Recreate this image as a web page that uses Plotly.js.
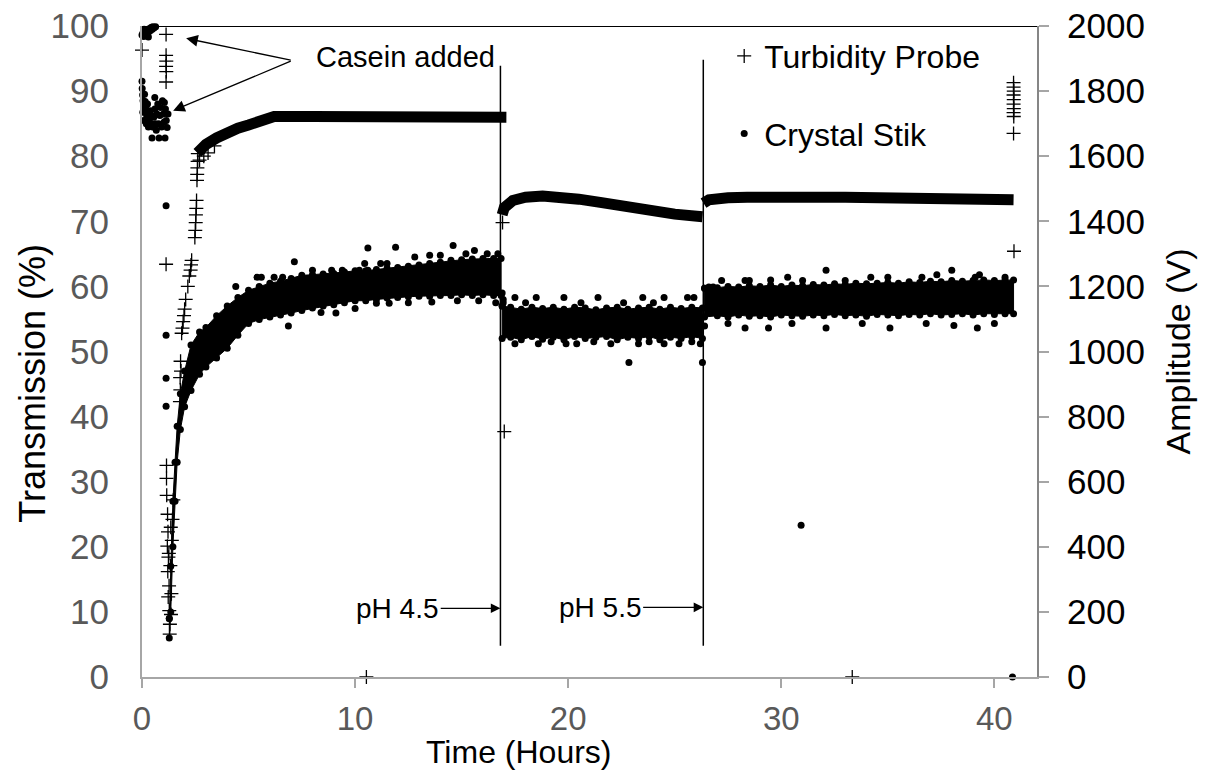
<!DOCTYPE html>
<html><head><meta charset="utf-8">
<script src="https://cdn.plot.ly/plotly-3.0.1.min.js"></script>
<style>html,body{margin:0;padding:0;background:#fff}#chart{width:1206px;height:780px}</style>
</head><body><div id="chart"></div>
<script>
// ---- Turbidity Probe (left axis, Transmission %) : individual readings ----
const probeTime = [0.00,
  1.13,1.13,1.14,1.13,1.14,1.13, 1.13,
  1.15,1.15,1.16, 1.20,1.22,1.19,1.24,1.21,1.27,1.23,1.28,1.31,1.30,1.36,1.38,1.33,1.40,1.43,1.47,1.35,1.26,
  1.78,1.80,1.79,1.81,1.83, 1.86,1.90,1.93,1.97,2.00,
  2.05,2.15,2.22,2.28,2.30,2.33, 2.48,2.50,2.52,2.53,2.55,2.56,
  2.58,2.59,2.60,2.61,2.62, 2.70,2.90,3.10,3.40,
  10.53, 17.00,16.92, 33.33,
  40.90,40.90,40.91,40.90,40.91,40.90,40.91,40.90,40.91,40.90,40.92];
const probeValue = [96.3,
  98.7,95.5,94.6,93.8,93.0,91.4, 63.4,
  32.5,30.5,27.9, 25.0,22.3,20.1,18.4,16.2,14.0,12.3,10.2,8.1,6.6,9.6,12.8,17.1,21.0,24.2,27.2,23.0,19.0,
  42.3,44.1,46.0,48.5,47.0, 52.8,53.6,54.6,55.5,56.5,
  58.0,60.0,61.6,62.5,63.3,64.0, 67.5,68.6,69.8,71.0,72.0,73.2,
  76.3,77.2,78.2,79.2,80.4, 79.4,80.0,80.5,81.6,
  0, 37.7,69.8, 0,
  91.3,90.6,90.0,89.4,88.7,88.0,87.3,86.7,86.1,83.5,65.4];
// dense run of Turbidity Probe readings (merged curve), null = break
const probeCurveTime  = [2.60,2.8,3.0,3.5,4.0,4.5,5.0,5.5,5.9,6.2,8,10,12,14,16,17.1, null,
  16.9,17.0,17.4,18.0,18.8,19.5,20.5,21.5,22.5,23.8,25.0,26.3, null,
  26.35,26.6,27.5,28.4,33,38,40.9];
const probeCurveValue = [80.5,81.2,81.8,82.8,83.7,84.3,84.8,85.4,85.9,86.1,86.1,86.1,86.1,86.1,86.1,86.0, null,
  71.0,72.1,73.2,73.7,73.9,73.8,73.4,72.9,72.3,71.6,71.1,70.7, null,
  72.8,73.3,73.6,73.7,73.7,73.6,73.3];

// ---- Crystal Stik (right axis, Amplitude V) : individual readings ----
const stikTime = [
  0.00,0.04,0.08,0.12,0.16,0.20,0.24,0.28,0.32,0.36,0.40,0.44,0.48,0.52,0.56,0.60,0.64,0.68,0.72,0.76,0.80,0.10,0.30,
  0.00,0.01,0.03,0.05,0.08,0.04,0.12,0.15,0.18,0.22,0.26,0.30,0.34,0.38,0.42,0.46,0.47,0.50,0.55,0.60,0.63,0.67,0.70,0.74,0.78,0.80,0.84,0.88,0.92,0.96,1.00,1.04,1.08,1.10,1.14,1.18,1.22,0.08,0.20,0.60,1.05,0.30,
  1.13,1.13,1.13,1.13,22.85,26.30,30.93,40.85,
  4.4,5.4,5.6,6.2,6.6,7.15,8.0,8.9,9.4,10.2,10.6,10.45,11.2,11.5,11.9,10.6,12.8,13.5,14.0,14.6,15.2,15.6,16.2,16.7,
  6.87,8.4,9.1,10.0,11.0,11.6,12.5,13.6,14.8,15.8,16.6,
  17.5,18.5,19.8,21.4,23.5,24.5,25.6,25.9,18.0,20.6,22.6,24.0,
  17.5,18.6,19.9,20.4,22.0,23.3,24.5,25.2,26.2,19.2,21.2,23.8,25.8,16.9,16.95,16.95,
  28.3,28.5,30.3,31.0,32.1,33.0,34.2,35.0,36.6,37.3,38.0,39.1,39.3,40.5,27.2,29.5,26.6,26.8,
  28.3,29.4,32.1,35.1,38.1,39.2,27.5,30.5,33.8,36.8,40.0,26.4];
const stikAmp = [
  1972,1978,1968,1982,1974,1986,1978,1990,1982,1992,1986,1996,1990,1998,1994,2002,1998,2004,2006,2010,2012,1990,1966,
  1830,1808,1788,1770,1752,1735,1790,1768,1745,1725,1760,1735,1710,1740,1700,1725,1656,1690,1720,1745,1700,1680,1730,1760,1700,1656,1725,1750,1690,1770,1730,1705,1656,1745,1710,1688,1730,1710,1700,1780,1765,1690,
  1448,1050,918,832,966,966,466,0,
  1200,1228,1228,1228,1228,1276,1250,1250,1250,1250,1250,1270,1270,1270,1320,1318,1290,1296,1296,1326,1300,1310,1300,1300,
  1078,1120,1118,1132,1148,1148,1150,1152,1156,1156,1150,
  1166,1166,1166,1166,1166,1166,1166,1166,1150,1150,1150,1150,
  1024,1024,1024,1024,1024,1024,1024,1024,1024,1030,1030,1030,1030,1180,1160,1150,
  1218,1218,1228,1218,1250,1218,1228,1228,1228,1236,1250,1228,1236,1228,1218,1220,1198,1198,
  1072,1072,1072,1072,1080,1072,1086,1086,1086,1086,1086,1078];
// dense band of Crystal Stik readings: low / high edge (null = break)
const stikBandTime = [1.28,1.35,1.45,1.55,1.65,1.8,2.0,2.3,2.7,3.0,3.5,4.0,4.5,5.0,5.5,6.0,6.5,7.0,7.5,8.0,8.5,9.0,9.5,10.0,10.5,11.0,11.5,12.0,12.5,13.0,13.5,14.0,14.5,15.0,15.5,16.0,16.5,16.85, null,
  16.9,17.3,17.8,18.3,18.8,19.3,19.8,20.3,20.8,21.3,21.8,22.3,22.8,23.3,23.8,24.3,24.8,25.3,25.8,26.3, null,
  26.4,27,27.5,28,28.5,29,29.5,30,30.5,31,31.5,32,32.5,33,33.5,34,34.5,35,35.5,36,36.5,37,37.5,38,38.5,39,39.5,40,40.5,40.9];
const stikBandLow = [120,200,400,540,660,760,830,880,930,952,980,1010,1050,1086,1098,1106,1112,1118,1126,1134,1140,1144,1150,1156,1156,1160,1164,1166,1168,1170,1170,1172,1172,1174,1172,1174,1172,1172, null,
  1040,1044,1036,1046,1038,1044,1036,1046,1040,1044,1046,1036,1044,1040,1046,1036,1044,1040,1046,1040, null,
  1106,1110,1106,1112,1108,1110,1106,1112,1110,1108,1112,1110,1114,1110,1112,1108,1114,1112,1110,1114,1112,1116,1112,1114,1116,1112,1116,1114,1116,1116];
const stikBandHigh = [180,340,540,660,770,870,940,1020,1060,1074,1110,1140,1166,1188,1200,1210,1216,1224,1234,1236,1238,1240,1244,1248,1248,1252,1256,1258,1262,1266,1270,1274,1280,1282,1284,1286,1286,1286, null,
  1140,1136,1130,1136,1132,1136,1130,1136,1134,1128,1134,1136,1130,1134,1136,1130,1136,1132,1136,1134, null,
  1194,1196,1200,1198,1202,1200,1204,1200,1204,1202,1206,1204,1208,1206,1210,1208,1210,1212,1210,1214,1212,1216,1214,1218,1216,1218,1220,1218,1220,1220];

const xTicks = [0,10,20,30,40];

// build closed polygons for the band (one per segment)
function bandPolygon(t, lo, hi){
  const xs=[], ys=[]; let seg=[];
  const flush=()=>{ if(!seg.length) return;
    if(xs.length){xs.push(null); ys.push(null);}
    seg.forEach(i=>{xs.push(t[i]); ys.push(hi[i]);});
    seg.slice().reverse().forEach(i=>{xs.push(t[i]); ys.push(lo[i]);});
    xs.push(t[seg[0]]); ys.push(hi[seg[0]]); seg=[]; };
  t.forEach((v,i)=>{ if(v===null) flush(); else seg.push(i); });
  flush();
  return {xs, ys};
}
const band = bandPolygon(stikBandTime, stikBandLow, stikBandHigh);

const FONT = 'Liberation Sans, Arial, sans-serif';
const data = [
  {type:'scatter', x:band.xs, y:band.ys, yaxis:'y2', mode:'lines+markers', fill:'toself', fillcolor:'#000',
   line:{color:'#000', width:1}, marker:{color:'#000', size:7}, connectgaps:false, showlegend:false, hoverinfo:'skip'},
  {type:'scatter', x:stikTime, y:stikAmp, yaxis:'y2', mode:'markers', name:'Crystal Stik',
   marker:{symbol:'circle', color:'#000', size:7}, cliponaxis:false, legendgroup:'stik', legendrank:2},
  {type:'scatter', x:probeCurveTime, y:probeCurveValue, mode:'lines', line:{color:'#000', width:11},
   connectgaps:false, showlegend:false, hoverinfo:'skip'},
  {type:'scatter', x:probeTime, y:probeValue, mode:'markers', name:'Turbidity Probe',
   marker:{symbol:'cross-thin', size:10, color:'#000', line:{color:'#000', width:1.3}}, cliponaxis:false,
   legendgroup:'probe', legendrank:1}
];

const axisGray = '#a6a6a6';
const layout = {
  width:1206, height:780, paper_bgcolor:'#fff', plot_bgcolor:'#fff',
  margin:{l:142, r:169, t:26, b:103},
  font:{family:FONT, color:'#000'},
  xaxis:{range:[0,42], tickvals:xTicks, showline:true, linecolor:axisGray, linewidth:2, ticks:'outside', ticklen:9,
    tickwidth:2, tickcolor:axisGray, showgrid:false, zeroline:false, tickfont:{size:33, color:'#595959'},
    ticklabelstandoff:2},
  // left axis: labels pushed away by a long transparent tick; visible short ticks come from yaxis3
  yaxis:{range:[0,100], dtick:10, showline:true, linecolor:axisGray, linewidth:2, ticks:'outside', ticklen:24,
    tickwidth:2, tickcolor:'rgba(0,0,0,0)', showgrid:false, zeroline:false, tickfont:{size:35, color:'#595959'}},
  yaxis3:{range:[0,100], dtick:10, overlaying:'y', side:'left', showline:false, ticks:'outside', ticklen:11,
    tickwidth:2, tickcolor:axisGray, showticklabels:false, showgrid:false, zeroline:false},
  yaxis2:{range:[0,2000], dtick:200, overlaying:'y', side:'right', showline:true, linecolor:'#868686', linewidth:2,
    ticks:'outside', ticklen:10, tickwidth:2, tickcolor:axisGray, showgrid:false, zeroline:false,
    tickfont:{size:35, color:'#000'}, ticklabelstandoff:11,
    title:{text:'Amplitude (V)', font:{size:34, color:'#000'}, standoff:22}},
  legend:{x:0.6505, xanchor:'left', y:0.996, yanchor:'top', bgcolor:'rgba(0,0,0,0)', font:{size:32, color:'#000'},
    traceorder:'grouped', tracegroupgap:33},
  shapes:[
    {type:'line', xref:'paper', x0:0, x1:1, yref:'y', y0:100, y1:100, line:{color:'#000', width:2}},
    {type:'line', xref:'x', x0:16.82, x1:16.82, yref:'y', y0:4.8, y1:93.9, line:{color:'#000', width:1.5}},
    {type:'line', xref:'x', x0:26.34, x1:26.34, yref:'y', y0:4.8, y1:94.8, line:{color:'#000', width:1.5}}
  ],
  annotations:[
    // axis titles
    {xref:'paper', yref:'paper', x:0, y:-0.1152, xanchor:'center', yanchor:'middle', showarrow:false,
     text:'Time (Hours)', font:{size:32, color:'#000'}},
    {xref:'paper', yref:'paper', x:-0.1218, y:0.452, xanchor:'center', yanchor:'middle', textangle:-90, showarrow:false,
     text:'Transmission (%)', font:{size:36, color:'#000'}},
    {xref:'x', yref:'y', x:12.36, y:95.3, text:'Casein added', showarrow:false, font:{size:29, color:'#000'}},
    {xref:'x', yref:'y', x:2.07, y:98.1, axref:'x', ayref:'y', ax:7.05, ay:94.7, text:'', showarrow:true,
     arrowhead:2, arrowsize:1.8, arrowwidth:1.3, arrowcolor:'#000'},
    {xref:'x', yref:'y', x:1.46, y:87.0, axref:'x', ayref:'y', ax:7.05, ay:94.7, text:'', showarrow:true,
     arrowhead:2, arrowsize:1.8, arrowwidth:1.3, arrowcolor:'#000'},
    {xref:'x', yref:'y', x:16.82, y:10.55, axref:'x', ayref:'y', ax:12.0, ay:10.55, text:'pH 4.5', showarrow:true,
     arrowhead:2, arrowsize:1.6, arrowwidth:1.2, arrowcolor:'#000', font:{size:28, color:'#000'}},
    {xref:'x', yref:'y', x:26.34, y:10.7, axref:'x', ayref:'y', ax:21.5, ay:10.7, text:'pH 5.5', showarrow:true,
     arrowhead:2, arrowsize:1.6, arrowwidth:1.2, arrowcolor:'#000', font:{size:28, color:'#000'}}
  ]
};
// x title annotation sits at x = 518 px (centre of the reference title)
layout.annotations[0].x = (518 - 142) / 895;
Plotly.newPlot('chart', data, layout, {displayModeBar:false, staticPlot:true});
</script></body></html>
